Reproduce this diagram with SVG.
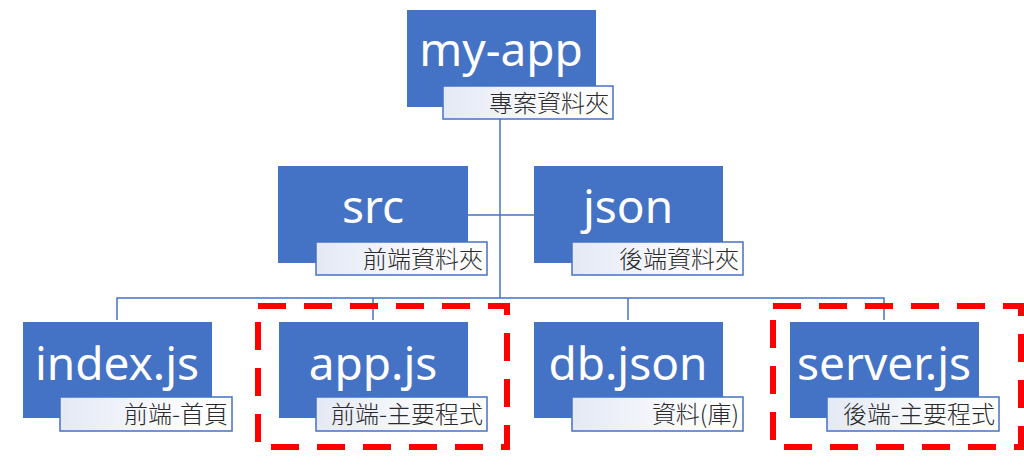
<svg xmlns="http://www.w3.org/2000/svg" width="1024" height="468" viewBox="0 0 1024 468">
<defs>
<linearGradient id="lg" x1="0" y1="0" x2="1" y2="0">
<stop offset="0" stop-color="#E4E9F5"/>
<stop offset="0.6" stop-color="#F8F9FD"/>
<stop offset="1" stop-color="#FFFFFF"/>
</linearGradient>
</defs>
<style>
.box{fill:#4472C4;}
.lab{fill:url(#lg);stroke:#4472C4;stroke-width:1.5;}
.main{font-family:"Noto Sans","Open Sans",sans-serif;font-size:46px;fill:#FFFFFF;text-anchor:middle;}
.sub{font-family:"Noto Sans CJK TC","Noto Sans",sans-serif;font-size:24px;font-weight:300;fill:#2A2A2A;text-anchor:end;}
.con{fill:none;stroke:#4472C4;stroke-width:1.5;}
.hl{fill:none;stroke:#FF0000;stroke-width:6;stroke-dasharray:28 18;}
</style>
<rect width="1024" height="468" fill="#FFFFFF"/>
<g id="connectors">
<path class="con" d="M500,107 V298"/>
<path class="con" d="M468,215 H534"/>
<path class="con" d="M117,320 V298 H884 V320"/>
<path class="con" d="M373,298 V320"/>
<path class="con" d="M628,298 V320"/>
</g>
<g id="my-app">
<rect class="box" x="407" y="10" width="189" height="97"/>
<text class="main" x="501" y="66">my-app</text>
<rect class="lab" x="443" y="86" width="170" height="33"/>
<text class="sub" x="609" y="112">專案資料夾</text>
</g>
<g id="src">
<rect class="box" x="278" y="166" width="190" height="97"/>
<text class="main" x="373" y="223">src</text>
<rect class="lab" x="316" y="242" width="171" height="33"/>
<text class="sub" x="483" y="268">前端資料夾</text>
</g>
<g id="json">
<rect class="box" x="534" y="166" width="189" height="97"/>
<text class="main" x="628" y="223">json</text>
<rect class="lab" x="572" y="242" width="171" height="33"/>
<text class="sub" x="739" y="268">後端資料夾</text>
</g>
<g id="index">
<rect class="box" x="23" y="322" width="189" height="96"/>
<text class="main" x="117" y="380">index.js</text>
<rect class="lab" x="60" y="397" width="172" height="34"/>
<text class="sub" x="228" y="423">前端-首頁</text>
</g>
<g id="app">
<rect class="box" x="279" y="322" width="189" height="96"/>
<text class="main" x="373" y="380">app.js</text>
<rect class="lab" x="316" y="397" width="171" height="34"/>
<text class="sub" x="483" y="423">前端-主要程式</text>
</g>
<g id="db">
<rect class="box" x="534" y="322" width="189" height="96"/>
<text class="main" x="628" y="380">db.json</text>
<rect class="lab" x="572" y="397" width="171" height="34"/>
<text class="sub" x="739" y="423">資料(庫)</text>
</g>
<g id="server">
<rect class="box" x="790" y="322" width="189" height="96"/>
<text class="main" x="884" y="380">server.js</text>
<rect class="lab" x="827" y="397" width="172" height="34"/>
<text class="sub" x="995" y="423">後端-主要程式</text>
</g>
<g id="highlights">
<rect class="hl" x="258" y="306" width="249" height="141"/>
<rect class="hl" x="773" y="306" width="248" height="141"/>
</g>
</svg>
